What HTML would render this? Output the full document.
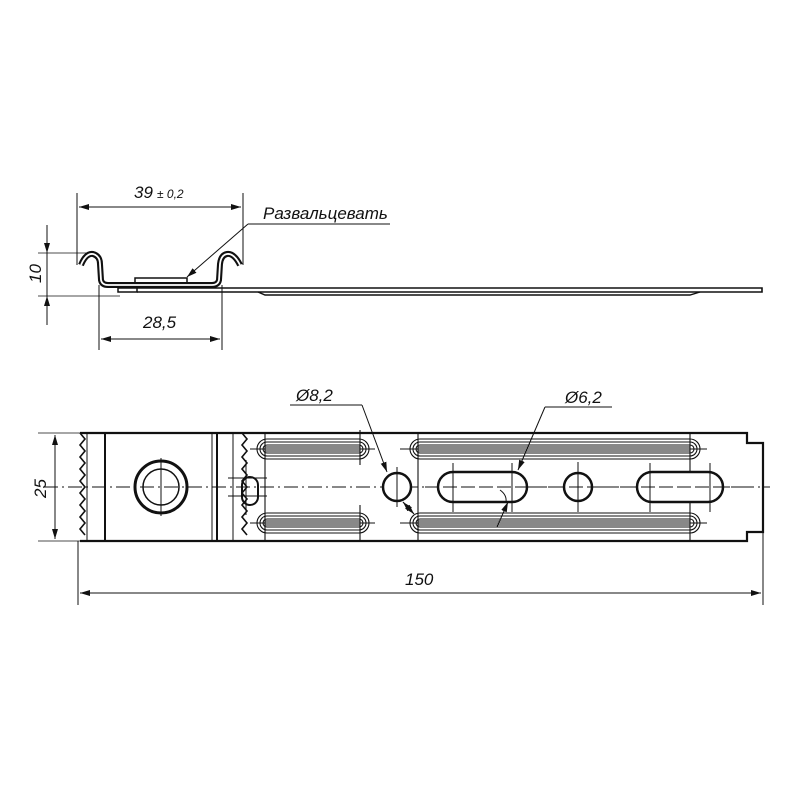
<!DOCTYPE html>
<html><head><meta charset="utf-8"><style>html,body{margin:0;background:#fff}svg{display:block}text{font-family:"Liberation Sans",sans-serif;font-style:italic;fill:#111}</style></head><body>
<svg width="800" height="800" viewBox="0 0 800 800" xmlns="http://www.w3.org/2000/svg">
<defs><marker id="a" viewBox="0 0 10 6" refX="10" refY="3" markerWidth="10" markerHeight="6" orient="auto-start-reverse" markerUnits="userSpaceOnUse"><path d="M0,0L10,3L0,6z" fill="#111"/></marker></defs>
<g stroke="#111" fill="none">
<line x1="77" y1="193" x2="77" y2="265" stroke-width="1"/>
<line x1="243" y1="193" x2="243" y2="265" stroke-width="1"/>
<line x1="79" y1="207" x2="241" y2="207" stroke-width="1" marker-start="url(#a)" marker-end="url(#a)"/>
<line x1="248" y1="224" x2="390" y2="224" stroke-width="1"/>
<line x1="248" y1="224" x2="187" y2="277" stroke-width="1" marker-end="url(#a)"/>
<line x1="38" y1="253" x2="95" y2="253" stroke-width="0.8"/>
<line x1="38" y1="296" x2="120" y2="296" stroke-width="0.8"/>
<line x1="47" y1="225" x2="47" y2="325" stroke-width="1"/>
<line x1="47" y1="230" x2="47" y2="253" stroke-width="1" marker-end="url(#a)"/>
<line x1="47" y1="320" x2="47" y2="296" stroke-width="1" marker-end="url(#a)"/>
<line x1="99" y1="285" x2="99" y2="350" stroke-width="1"/>
<line x1="222" y1="285" x2="222" y2="350" stroke-width="1"/>
<line x1="101" y1="339" x2="220" y2="339" stroke-width="1" marker-start="url(#a)" marker-end="url(#a)"/>
<path d="M81,265 Q86,253 93,254 Q100,256 100,264 L101,280 Q102,285 108,285 L212,285 Q218,285 219,280 L220,264 Q221,255 227,254 Q234,253 240,265" stroke-width="6"/>
<path d="M81,265 Q86,253 93,254 Q100,256 100,264 L101,280 Q102,285 108,285 L212,285 Q218,285 219,280 L220,264 Q221,255 227,254 Q234,253 240,265" stroke="#fff" stroke-width="1.8"/>
<rect x="135" y="278" width="52" height="5" stroke-width="1.5"/>
<rect x="118" y="288" width="19" height="4" stroke-width="1.5"/>
<path d="M137,288 L762,288 L762,292 L137,292" stroke-width="1.6"/>
<path d="M258,292 L265,295 L690,295 L700,292" stroke-width="1.4"/>
<line x1="38" y1="433" x2="80" y2="433" stroke-width="0.8"/>
<line x1="38" y1="541" x2="80" y2="541" stroke-width="0.8"/>
<line x1="55" y1="435" x2="55" y2="539" stroke-width="1" marker-start="url(#a)" marker-end="url(#a)"/>
<path d="M80,433 L747,433 L747,443 L763,443 L763,532 L747,532 L747,541 L80,541" stroke-width="2.2"/>
<path d="M80,433 l5,6 l-5,6 l5,6 l-5,6 l5,6 l-5,6 l5,6 l-5,6 l5,6 l-5,6 l5,6 l-5,6 l5,6 l-5,6 l5,6 l-5,6 l5,6" stroke-width="1.6"/>
<path d="M242,433 l5,6 l-5,6 l5,6 l-5,6 l5,6 l-5,6 l5,6 l-5,6 l5,6 l-5,6 l5,6 l-5,6 l5,6 l-5,6 l5,6 l-5,6 l5,6" stroke-width="1.6"/>
<line x1="87" y1="433" x2="87" y2="541" stroke-width="1"/>
<line x1="105" y1="433" x2="105" y2="541" stroke-width="2"/>
<line x1="212" y1="433" x2="212" y2="541" stroke-width="1"/>
<line x1="217" y1="433" x2="217" y2="541" stroke-width="2"/>
<line x1="233" y1="433" x2="233" y2="541" stroke-width="1"/>
<line x1="44" y1="487" x2="770" y2="487" stroke-width="1" stroke-dasharray="14,4,2,4"/>
<circle cx="161" cy="487" r="26" stroke-width="3"/>
<circle cx="161" cy="487" r="18" stroke-width="1.5"/>
<line x1="161" y1="458" x2="161" y2="516" stroke-width="1"/>
<rect x="242" y="477" width="16" height="28" rx="8" stroke-width="2"/>
<line x1="228" y1="478" x2="267" y2="478" stroke-width="1"/>
<line x1="228" y1="496" x2="267" y2="496" stroke-width="1"/>
<line x1="246" y1="460" x2="246" y2="515" stroke-width="1"/>
<g stroke-width="1.1">
<rect x="257" y="439" width="112" height="20" rx="10"/><rect x="260" y="442" width="106" height="14" rx="7"/><rect x="263" y="445" width="100" height="8" rx="4"/>
<rect x="257" y="513" width="112" height="20" rx="10"/><rect x="260" y="516" width="106" height="14" rx="7"/><rect x="263" y="519" width="100" height="8" rx="4"/>
<rect x="410" y="439" width="290" height="20" rx="10"/><rect x="413" y="442" width="284" height="14" rx="7"/><rect x="416" y="445" width="278" height="8" rx="4"/>
<rect x="410" y="513" width="290" height="20" rx="10"/><rect x="413" y="516" width="284" height="14" rx="7"/><rect x="416" y="519" width="278" height="8" rx="4"/>
<line x1="265" y1="447" x2="360" y2="447"/><line x1="265" y1="451" x2="360" y2="451"/>
<line x1="265" y1="521" x2="360" y2="521"/><line x1="265" y1="525" x2="360" y2="525"/>
<line x1="418" y1="447" x2="690" y2="447"/><line x1="418" y1="451" x2="690" y2="451"/>
<line x1="418" y1="521" x2="690" y2="521"/><line x1="418" y1="525" x2="690" y2="525"/>
<line x1="265" y1="433" x2="265" y2="541"/><line x1="360" y1="430" x2="360" y2="465"/><line x1="360" y1="505" x2="360" y2="541"/>
<line x1="418" y1="433" x2="418" y2="541"/><line x1="690" y1="433" x2="690" y2="541"/>
<line x1="250" y1="449" x2="375" y2="449"/><line x1="250" y1="523" x2="375" y2="523"/>
<line x1="400" y1="449" x2="707" y2="449"/><line x1="400" y1="523" x2="707" y2="523"/>
</g>
<g fill="#fff">
<circle cx="397" cy="487" r="14" stroke-width="2.5"/>
<circle cx="578" cy="487" r="14" stroke-width="2.5"/>
<rect x="438" y="472" width="89" height="30" rx="15" stroke-width="2.5"/>
<rect x="637" y="472" width="86" height="30" rx="15" stroke-width="2.5"/>
</g>
<g stroke-width="1">
<line x1="397" y1="467" x2="397" y2="507"/><line x1="578" y1="462" x2="578" y2="512"/>
<line x1="453" y1="463" x2="453" y2="512"/><line x1="512" y1="463" x2="512" y2="512"/>
<line x1="650" y1="463" x2="650" y2="512"/><line x1="710" y1="463" x2="710" y2="512"/>
<line x1="425" y1="487" x2="740" y2="487" stroke-dasharray="14,4"/>
</g>
<line x1="290" y1="405" x2="362" y2="405" stroke-width="1"/>
<line x1="362" y1="405" x2="387" y2="472" stroke-width="1" marker-end="url(#a)"/>
<line x1="403" y1="502" x2="414" y2="514" stroke-width="1.2" marker-start="url(#a)" marker-end="url(#a)"/>
<line x1="545" y1="407" x2="612" y2="407" stroke-width="1"/>
<line x1="545" y1="407" x2="518" y2="470" stroke-width="1" marker-end="url(#a)"/>
<line x1="497" y1="527" x2="508" y2="502" stroke-width="1" marker-end="url(#a)"/>
<path d="M500,490 Q507,495 506,502" stroke-width="1"/>
<line x1="78" y1="541" x2="78" y2="605" stroke-width="1"/>
<line x1="763" y1="532" x2="763" y2="605" stroke-width="1"/>
<line x1="80" y1="593" x2="761" y2="593" stroke-width="1" marker-start="url(#a)" marker-end="url(#a)"/>
</g>
<text x="134" y="198" font-size="17">39</text><text x="157" y="198" font-size="12">± 0,2</text>
<text x="263" y="219" font-size="17">Развальцевать</text>
<text x="0" y="0" font-size="17" transform="translate(41,283) rotate(-90)">10</text>
<text x="143" y="328" font-size="17">28,5</text>
<text x="0" y="0" font-size="17" transform="translate(46,498) rotate(-90)">25</text>
<text x="296" y="401" font-size="17">Ø8,2</text>
<text x="565" y="403" font-size="17">Ø6,2</text>
<text x="405" y="585" font-size="17">150</text>
</svg>
</body></html>
